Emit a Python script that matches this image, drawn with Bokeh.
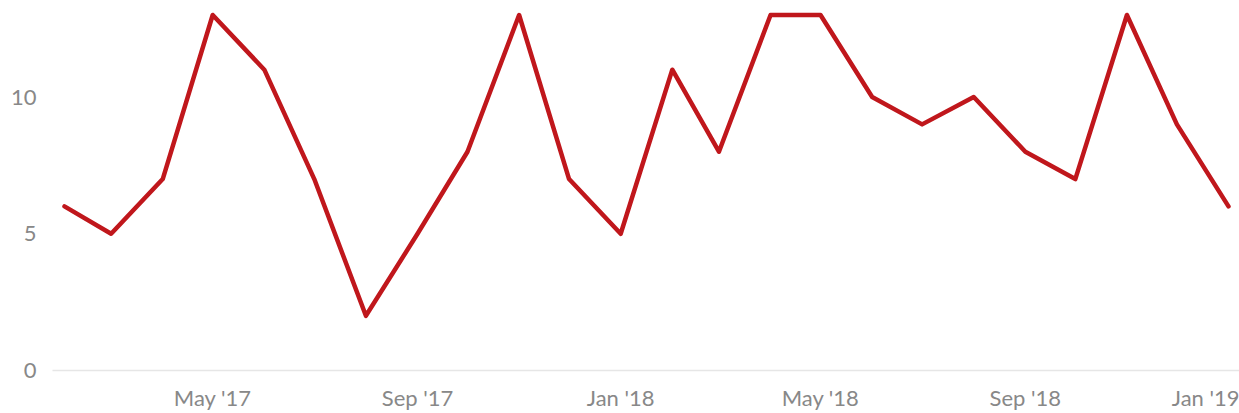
from datetime import datetime, timedelta
from bokeh.plotting import figure
from bokeh.models import Range1d, MonthsTicker, DatetimeTickFormatter, FixedTicker
from bokeh.embed import file_html
from bokeh.resources import INLINE

months = ["2017-02", "2017-03", "2017-04", "2017-05", "2017-06", "2017-07", "2017-08",
          "2017-09", "2017-10", "2017-11", "2017-12", "2018-01", "2018-02", "2018-03",
          "2018-04", "2018-05", "2018-06", "2018-07", "2018-08", "2018-09", "2018-10",
          "2018-11", "2018-12", "2019-01"]
values = [6, 5, 7, 13, 11, 7, 2, 5, 8, 13, 7, 5, 11, 8, 13, 13, 10, 9, 10, 8, 7, 13, 9, 6]
y_ticks = [0, 5, 10]

dates = [datetime.strptime(m, "%Y-%m") for m in months]

FONT = "Lato"
GRAY = "#888888"

p = figure(width=1239, height=413, output_backend="svg", toolbar_location=None,
           x_axis_type="datetime",
           x_range=Range1d(dates[0] - timedelta(days=7.2), dates[-1] + timedelta(days=6.6)),
           y_range=Range1d(0, 13.53),
           min_border_left=52, min_border_right=0, min_border_top=0, min_border_bottom=35)
p.outline_line_color = None
p.background_fill_color = "white"
p.border_fill_color = "white"
p.xgrid.grid_line_color = None
p.ygrid.grid_line_color = None

p.line(dates, values, line_color="#c0171c", line_width=4.5, line_join="round", line_cap="round")

p.xaxis.ticker = MonthsTicker(months=[0, 4, 8])
p.xaxis.formatter = DatetimeTickFormatter(months="%b '%y", years="%b '%y", days="%b '%y")
p.xaxis.axis_line_color = "#e6e6e6"
p.xaxis.axis_line_width = 1.5
p.xaxis.major_tick_line_color = None
p.xaxis.minor_tick_line_color = None
p.xaxis.major_label_text_font = FONT
p.xaxis.major_label_text_font_size = "22px"
p.xaxis.major_label_text_color = GRAY
p.xaxis.major_label_standoff = 7

p.yaxis.ticker = FixedTicker(ticks=y_ticks)
p.yaxis.axis_line_color = None
p.yaxis.major_tick_line_color = None
p.yaxis.minor_tick_line_color = None
p.yaxis.major_label_text_font = FONT
p.yaxis.major_label_text_font_size = "22px"
p.yaxis.major_label_text_color = GRAY
p.yaxis.major_label_standoff = 10

open("out.html", "w").write(file_html(p, INLINE))
